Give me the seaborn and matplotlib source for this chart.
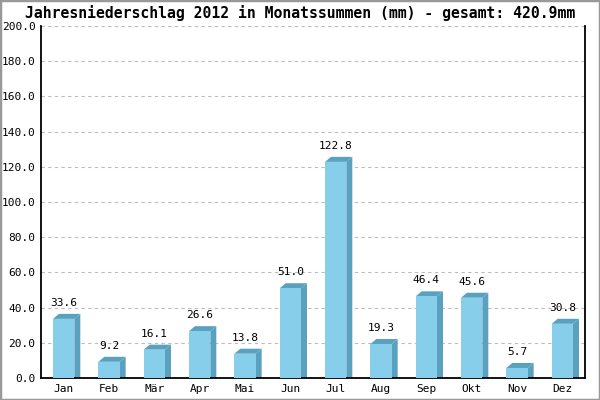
import matplotlib
matplotlib.use("Agg")
import matplotlib.pyplot as plt
import seaborn as sns
from matplotlib.patches import Polygon, Rectangle

months = ["Jan", "Feb", "Mär", "Apr", "Mai", "Jun", "Jul", "Aug", "Sep", "Okt", "Nov", "Dez"]
rain = [33.6, 9.2, 16.1, 26.6, 13.8, 51.0, 122.8, 19.3, 46.4, 45.6, 5.7, 30.8]
yticks = [0, 20, 40, 60, 80, 100, 120, 140, 160, 180, 200]
title = "Jahresniederschlag 2012 in Monatssummen (mm) - gesamt: 420.9mm"

front = "#87ceeb"
side = "#5aa0bf"
mono = ["DejaVu Sans Mono"]

sns.set_style("white")
plt.rcParams["text.color"] = "black"
plt.rcParams["xtick.color"] = "black"
plt.rcParams["ytick.color"] = "black"
fig = plt.figure(figsize=(6, 4), dpi=100)
ax = fig.add_axes([41 / 600, 22 / 400, 544 / 600, 352 / 400])

bar_w = 0.47
sns.barplot(x=months, y=rain, color=front, saturation=1, width=bar_w, ax=ax,
            linewidth=0, edgecolor="none", zorder=3)
ax.set_xlim(-0.5, len(months) - 0.5)
ax.set_ylim(0, 200)

# depth of the 3d look in data units (6 px right, 5 px up)
dx = 6 / 544 * len(months)
dy = 5 / 352 * 200
for i, v in enumerate(rain):
    x0 = i - bar_w / 2
    x1 = i + bar_w / 2
    ax.add_patch(Polygon([(x1, 0), (x1 + dx, 0), (x1 + dx, v + dy), (x1, v)],
                         closed=True, facecolor=side, edgecolor="none", zorder=2))
    ax.add_patch(Polygon([(x0, v), (x0 + dx, v + dy), (x1 + dx, v + dy), (x1, v)],
                         closed=True, facecolor=side, edgecolor="none", zorder=2))
    ax.annotate(f"{v:.1f}", (i, v), xytext=(0, 8), textcoords="offset points",
                ha="center", va="bottom", fontsize=8, family=mono, color="black")

ax.set_yticks(yticks)
ax.set_yticklabels([f"{t:.1f}" for t in yticks], family=mono, fontsize=8)
for lab in ax.get_xticklabels():
    lab.set_family(mono)
    lab.set_fontsize(8)
ax.tick_params(length=0, pad=4, colors="black")
ax.set_xlabel("")
ax.set_ylabel("")

ax.yaxis.grid(True, linestyle=(0, (3, 3)), color="#bbbbbb", linewidth=0.8, zorder=0)
ax.set_axisbelow(True)
for s in ["left", "bottom", "right"]:
    ax.spines[s].set_color("black")
    ax.spines[s].set_linewidth(1.3)
ax.spines["top"].set_visible(False)

fig.text(0.5, 1 - 13 / 400, title, ha="center", va="center", fontsize=10.6,
         fontweight="bold", family=mono, color="black")
fig.patches.append(Rectangle((0, 0), 1, 1, transform=fig.transFigure, fill=False,
                             edgecolor="#999999", linewidth=2.5, zorder=10))

fig.savefig("out.png", dpi=100)
